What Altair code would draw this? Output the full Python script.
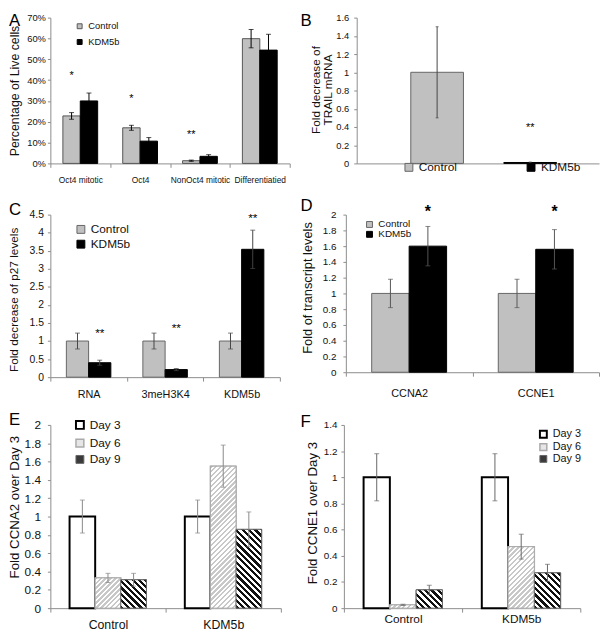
import altair as alt
import pandas as pd

FONT = "Liberation Sans"
NARROW = "Liberation Sans Narrow, Liberation Sans"

# ---------------- Panel A ----------------
a_cats = ["Oct4 mitotic", "Oct4", "NonOct4 mitotic", "Differentiatied"]
a_series = ["Control", "KDM5b"]
a_control = [22.8, 17.1, 1.3, 59.9]
a_control_err = [1.6, 1.2, 0.3, 4.4]
a_kdm5b = [30.0, 10.7, 3.4, 54.4]
a_kdm5b_err = [3.8, 1.7, 0.8, 7.6]
a_star_cats = ["Oct4 mitotic", "Oct4", "NonOct4 mitotic"]
a_star_series = ["Control", "Control", "Control"]
a_star_text = ["*", "*", "**"]
a_star_y = [42, 31, 13.5]
a_ticks = [0, 10, 20, 30, 40, 50, 60, 70]

# ---------------- Panel B ----------------
b_cats = ["Control", "KDM5b"]
b_vals = [1.0, 0.01]
b_errs = [0.5, 0.005]
b_star_cats = ["KDM5b"]
b_star_text = ["**"]
b_star_y = [0.385]
b_ticks = [0, 0.2, 0.4, 0.6, 0.8, 1, 1.2, 1.4, 1.6]

# ---------------- Panel C ----------------
c_cats = ["RNA", "3meH3K4", "KDM5b"]
c_series = ["Control", "KDM5b"]
c_control = [1.0, 1.0, 1.0]
c_control_err = [0.22, 0.22, 0.22]
c_kdm5b = [0.4, 0.21, 3.54]
c_kdm5b_err = [0.07, 0.03, 0.53]
c_star_text = ["**", "**", "**"]
c_star_y = [1.22, 1.37, 4.4]
c_ticks = [0, 0.5, 1, 1.5, 2, 2.5, 3, 3.5, 4, 4.5]

# ---------------- Panel D ----------------
d_cats = ["CCNA2", "CCNE1"]
d_series = ["Control", "KDM5b"]
d_control = [1.0, 1.0]
d_control_err = [0.18, 0.18]
d_kdm5b = [1.6, 1.56]
d_kdm5b_err = [0.25, 0.25]
d_star_text = ["*", "*"]
d_star_y = [2.03, 2.03]
d_ticks = [0, 0.2, 0.4, 0.6, 0.8, 1, 1.2, 1.4, 1.6, 1.8, 2]

# ---------------- Panel E ----------------
e_groups = ["Control", "KDM5b"]
e_days = ["Day 3", "Day 6", "Day 9"]
e_day3 = [1.0, 1.0]
e_day3_err = [0.18, 0.18]
e_day6 = [0.33, 1.55]
e_day6_err = [0.05, 0.23]
e_day9 = [0.31, 0.86]
e_day9_err = [0.07, 0.19]
e_ticks = [0, 0.2, 0.4, 0.6, 0.8, 1, 1.2, 1.4, 1.6, 1.8, 2]

# ---------------- Panel F ----------------
f_groups = ["Control", "KDM5b"]
f_days = ["Day 3", "Day 6", "Day 9"]
f_day3 = [1.0, 1.0]
f_day3_err = [0.18, 0.18]
f_day6 = [0.025, 0.47]
f_day6_err = [0.005, 0.095]
f_day9 = [0.14, 0.27]
f_day9_err = [0.035, 0.065]
f_ticks = [0, 0.2, 0.4, 0.6, 0.8, 1, 1.2, 1.4]


def make_df(cats, series, vals, errs):
    rows = []
    for s, vs, es in zip(series, vals, errs):
        for c, v, e in zip(cats, vs, es):
            rows.append(dict(cat=c, series=s, val=v, lo=max(v - e, 0), hi=v + e))
    return pd.DataFrame(rows)


def stripe_gradient(w, h, period, color, direction):
    """45-degree stripes expressed as a bounding-box linear gradient."""
    total = w + h
    k = (w + h) / (w * w + h * h)
    if direction == "/":
        x1, y1, x2, y2 = 0, 0, w * k, h * k
    else:
        x1, y1, x2, y2 = 0, 1, w * k, 1 - h * k
    stops = []
    n = int(total / period) + 2
    for i in range(n):
        t0 = i * period / total
        t1 = (i + 0.5) * period / total
        t2 = (i + 1) * period / total
        for off, col in ((t0, color), (t1, color), (t1, "#ffffff"), (t2, "#ffffff")):
            if off <= 1:
                stops.append({"offset": round(off, 5), "color": col})
    return {"gradient": "linear", "x1": x1, "y1": y1, "x2": x2, "y2": y2, "stops": stops}


def panel(letter, letter_x, letter_y, data, cats, series, width, height, ymax, ticks,
          ytitle, ytitle_x, ytitle_y, ytitle_size, ylab_size, ylab_pad, font,
          xlab_size, xlab_pad, xscale, group_pad, fills, strokes, stroke_widths,
          legend, err_color, cap_size, stars, star_size, star_weight="normal",
          label_expr="format(datum.value, '~g')", show_xlabels=True, show_xticks=True,
          stripes=None, use_offset=True, star_dy=0):
    xaxis = alt.Axis(title=None, labelAngle=0, tickBand="extent", labels=show_xlabels,
                     ticks=show_xticks, tickSize=4, labelFontSize=xlab_size, labelFont=font,
                     labelPadding=xlab_pad)
    x = alt.X("cat:N", sort=cats, scale=xscale, axis=xaxis)
    enc_extra = {}
    if use_offset:
        xo = alt.XOffset("series:N", sort=series,
                         scale=alt.Scale(domain=series, paddingInner=0, paddingOuter=group_pad))
        enc_extra = {"xOffset": xo}
    yaxis = alt.Axis(values=ticks, title=ytitle, titleX=ytitle_x, titleY=ytitle_y,
                     titleBaseline="middle", titleFontSize=ytitle_size, titleFont=FONT,
                     titleLineHeight=12, labelFontSize=ylab_size, labelFont=font,
                     labelPadding=ylab_pad, tickSize=3, labelExpr=label_expr)
    yscale = alt.Scale(domain=[0, ymax], nice=False, zero=True)

    def Y(f):
        return alt.Y(f, scale=yscale, axis=yaxis)

    bars = alt.Chart(data).mark_bar().encode(
        x=x, y=Y("val:Q"),
        fill=alt.Fill("series:N", sort=series, scale=alt.Scale(domain=series, range=fills), legend=legend),
        stroke=alt.Stroke("series:N", sort=series, scale=alt.Scale(domain=series, range=strokes), legend=None),
        strokeWidth=alt.StrokeWidth("series:N", sort=series,
                                    scale=alt.Scale(domain=series, range=stroke_widths), legend=None),
        **enc_extra)
    layers = [bars]

    if stripes:
        for _, r in data.iterrows():
            if r["series"] not in stripes:
                continue
            color, period, direction, stroke, bw = stripes[r["series"]]
            bh = max(r["val"] / ymax * height, 1)
            grad = stripe_gradient(bw, bh, period, color, direction)
            layers.append(
                alt.Chart(data)
                .transform_filter(f"datum.cat == '{r['cat']}' && datum.series == '{r['series']}'")
                .mark_bar(fill=grad, stroke=stroke, strokeWidth=1)
                .encode(x=x, y=Y("val:Q"), **enc_extra)
            )

    layers.append(alt.Chart(data).mark_rule(color=err_color, strokeWidth=1).encode(
        x=x, y=Y("lo:Q"), y2="hi:Q", **enc_extra))
    for fld in ("lo", "hi"):
        layers.append(alt.Chart(data).mark_tick(color=err_color, size=cap_size, thickness=1,
                                                orient="horizontal").encode(
            x=x, y=Y(f"{fld}:Q"), **enc_extra))
    if stars is not None:
        layers.append(alt.Chart(stars).mark_text(font=FONT, fontSize=star_size, fontWeight=star_weight,
                                                 baseline="middle", dy=star_dy, color="black").encode(
            x=x, y=Y("y:Q"), text="t:N", **enc_extra))
    layers.append(alt.Chart(pd.DataFrame({"t": [letter]})).mark_text(
        font=FONT, fontSize=17, align="left", baseline="top", color="black").encode(
        text="t:N", x=alt.value(letter_x), y=alt.value(letter_y)))
    return alt.layer(*layers).properties(width=width, height=height)


def leg(x, y, size, font, fsize, row_pad, stroke, direction="vertical", col_pad=10):
    return alt.Legend(orient="none", legendX=x, legendY=y, title=None, symbolType="square",
                      symbolSize=size, labelFont=font, labelFontSize=fsize, rowPadding=row_pad,
                      columnPadding=col_pad, padding=0, labelOffset=4, symbolStrokeColor=stroke,
                      symbolStrokeWidth=1, direction=direction, labelColor="#111111")


def indep(c):
    return c.resolve_scale(fill="independent", stroke="independent", strokeWidth="independent",
                           x="independent", y="independent", xOffset="independent").resolve_legend(
        fill="independent", stroke="independent", strokeWidth="independent")


full = alt.Scale(paddingInner=0, paddingOuter=0)
GRAYBAR = "#c0c0c0"

# A
dfA = make_df(a_cats, a_series, [a_control, a_kdm5b], [a_control_err, a_kdm5b_err])
starsA = pd.DataFrame(dict(cat=a_star_cats, series=a_star_series, t=a_star_text, y=a_star_y))
pA = panel("A", -42, -4, dfA, a_cats, a_series, 243, 148, 70, a_ticks,
           "Percentage of Live cells", -36, 74, 12.5, 9.5, 2, NARROW,
           8.5, 8, full, 0.72, [GRAYBAR, "#000000"], ["#555555", "#000000"], [1, 1],
           leg(25, 4, 25, NARROW, 9.5, 5, "#333333"), "#000000", 5, starsA, 11,
           label_expr="datum.value + '%'")

# B
dfB = pd.DataFrame(dict(cat=b_cats, series=b_cats, val=b_vals,
                        lo=[max(v - e, 0) for v, e in zip(b_vals, b_errs)],
                        hi=[v + e for v, e in zip(b_vals, b_errs)]))
starsB = pd.DataFrame(dict(cat=b_star_cats, series=b_star_cats, t=b_star_text, y=b_star_y))
pB = panel("B", -57, -4, dfB, b_cats, b_cats, 246, 148, 1.6, b_ticks,
           ["Fold decrease of", "TRAIL mRNA"], -42, 73, 12, 9.5, 5, FONT,
           10, 4, alt.Scale(paddingInner=0.434, paddingOuter=0.519, align=0.56), 0,
           [GRAYBAR, "#000000"], ["#666666", "#000000"], [1, 1],
           leg(47, 146, 64, FONT, 12, 0, "#444444", direction="horizontal", col_pad=69),
           "#444444", 3, starsB, 11, show_xlabels=False, show_xticks=False, use_offset=False)

# C
dfC = make_df(c_cats, c_series, [c_control, c_kdm5b], [c_control_err, c_kdm5b_err])
starsC = pd.DataFrame(dict(cat=c_cats, series=["KDM5b"] * 3, t=c_star_text, y=c_star_y))
pC = panel("C", -42, -13, dfC, c_cats, c_series, 233, 165, 4.5, c_ticks,
           "Fold decrease of p27 levels", -37, 86, 12, 10.5, 4, FONT,
           11, 7.5, full, 0.72, [GRAYBAR, "#000000"], ["#666666", "#000000"], [1, 1],
           leg(25, 9, 64, FONT, 12, 3, "#444444"), "#444444", 5, starsC, 12)

# D
dfD = make_df(d_cats, d_series, [d_control, d_kdm5b], [d_control_err, d_kdm5b_err])
starsD = pd.DataFrame(dict(cat=d_cats, series=["KDM5b"] * 2, t=d_star_text, y=d_star_y))
pD = panel("D", -46, -17, dfD, d_cats, d_series, 257, 160, 2, d_ticks,
           "Fold of transcript levels", -39, 74, 13, 10, 7, FONT,
           11, 11.5, full, 0.69, [GRAYBAR, "#000000"], ["#666666", "#000000"], [1, 1],
           leg(19, 5, 36, FONT, 10, 0, "#444444"), "#555555", 5, starsD, 16, star_weight="bold")

# E
dfE = make_df(e_groups, e_days, [e_day3, e_day6, e_day9], [e_day3_err, e_day6_err, e_day9_err])
bwE = 234 / 2 / (3 + 2 * 0.75)
pE = panel("E", -42, -13, dfE, e_groups, e_days, 234, 186, 2, e_ticks,
           "Fold CCNA2 over Day 3", -36, 83, 13.5, 12, 7, FONT,
           12.5, 6.5, full, 0.75, ["#ffffff", "#e6e6e6", "#3a3a3a"], ["#000000", "#aaaaaa", "#666666"],
           [2, 1, 1], leg(24, -6, 64, FONT, 12, 3.5, "#333333"), "#888888", 5, None, 12,
           stripes={"Day 6": ("#c8c8c8", 5, "/", "#aaaaaa", bwE),
                    "Day 9": ("#111111", 6.5, "\\", "#666666", bwE)})

# F
dfF = make_df(f_groups, f_days, [f_day3, f_day6, f_day9], [f_day3_err, f_day6_err, f_day9_err])
bwF = 240 / 2 / (3 + 2 * 0.75)
pF = panel("F", -44, -11, dfF, f_groups, f_days, 240, 186, 1.4, f_ticks,
           "Fold CCNE1 over Day 3", -32, 89, 13.5, 10, 4, FONT,
           12, 1.2, full, 0.75, ["#ffffff", "#e6e6e6", "#3a3a3a"], ["#000000", "#aaaaaa", "#666666"],
           [2, 1, 1], leg(197, 4, 49, FONT, 11, -1.5, "#333333"), "#666666", 5, None, 12,
           stripes={"Day 6": ("#c8c8c8", 5, "/", "#aaaaaa", bwF),
                    "Day 9": ("#111111", 6.5, "\\", "#666666", bwF)})

row1 = indep(alt.hconcat(pA, pB, spacing=10))
row2 = indep(alt.hconcat(pC, pD, spacing=20))
row3 = indep(alt.hconcat(pE, pF, spacing=19))

top = indep(alt.vconcat(row1, row2, spacing=13))
chart = indep(alt.vconcat(top, row3, spacing=11.5)).properties(
    padding={"left": 0, "top": 0, "right": 0, "bottom": 0}
).configure_view(stroke=None).configure_axis(
    grid=False, domainColor="#8c8c8c", tickColor="#8c8c8c", labelColor="#111111",
    titleColor="#111111", titleFontWeight="normal"
)

chart.save("out.html", embed_options={"renderer": "svg", "actions": False})
